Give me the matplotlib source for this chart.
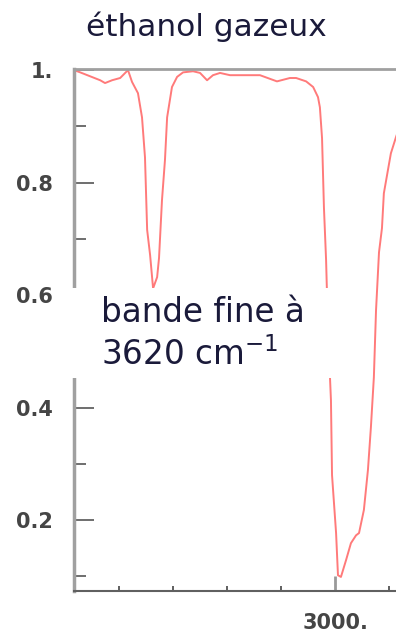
import matplotlib
matplotlib.use("Agg")
import matplotlib.pyplot as plt
from matplotlib.patches import Rectangle
from matplotlib.ticker import FixedLocator, FixedFormatter

# spectre IR de l'ethanol gazeux
wavenumber = [3967, 3944, 3907, 3870, 3852, 3826, 3796, 3767, 3752, 3730,
              3715, 3704, 3696, 3685, 3674, 3659, 3652, 3641, 3630, 3622,
              3604, 3585, 3563, 3526, 3500, 3474, 3452, 3426, 3389, 3278,
              3215, 3167, 3144, 3107, 3081, 3063, 3056, 3048, 3041, 3033,
              3026, 3015, 3011, 2996, 2989, 2978, 2959, 2941, 2922, 2911,
              2893, 2878, 2867, 2856, 2848, 2837, 2826, 2819, 2804, 2793,
              2774, 2760]
transmittance = [1.0, 0.996, 0.989, 0.982, 0.977, 0.982, 0.986, 1.0, 0.979, 0.959,
                 0.916, 0.845, 0.716, 0.671, 0.612, 0.632, 0.666, 0.769, 0.84, 0.916,
                 0.97, 0.988, 0.996, 0.998, 0.995, 0.982, 0.991, 0.995, 0.991, 0.991,
                 0.98, 0.986, 0.986, 0.98, 0.97, 0.952, 0.934, 0.879, 0.756, 0.662,
                 0.538, 0.413, 0.28, 0.177, 0.102, 0.099, 0.129, 0.159, 0.173, 0.177,
                 0.218, 0.289, 0.365, 0.454, 0.573, 0.676, 0.719, 0.781, 0.822, 0.852,
                 0.881, 0.90]

y_ticks = [0.2, 0.4, 0.6, 0.8, 1.0]
y_labels = ["0.2", "0.4", "0.6", "0.8", "1."]
y_minor = [0.1, 0.3, 0.5, 0.7, 0.9]
x_ticks = [3000]
x_labels = ["3000."]
x_minor = [2800, 3200, 3400, 3600, 3800]

fig = plt.figure(figsize=(3.96, 6.33), dpi=100)
ax = fig.add_axes([74 / 396, 42 / 633, 322 / 396, 522 / 633])

ax.plot(wavenumber, transmittance, color="#ff7a7a", lw=1.4, zorder=2)
ax.set_xlim(3967, 2774)
ax.set_ylim(0.074, 1.002)

ax.yaxis.set_major_locator(FixedLocator(y_ticks))
ax.yaxis.set_major_formatter(FixedFormatter(y_labels))
ax.yaxis.set_minor_locator(FixedLocator(y_minor))
ax.xaxis.set_major_locator(FixedLocator(x_ticks))
ax.xaxis.set_major_formatter(FixedFormatter(x_labels))
ax.xaxis.set_minor_locator(FixedLocator(x_minor))

ax.tick_params(axis="y", which="major", direction="in", length=14.4, width=1.2,
               color="#555555", pad=15, labelsize=15, labelcolor="#454545")
ax.tick_params(axis="y", which="minor", direction="in", length=8.6, width=1.2,
               color="#555555")
ax.tick_params(axis="x", which="major", direction="in", length=11, width=2,
               color="#999999", pad=16, labelsize=15, labelcolor="#454545")
ax.tick_params(axis="x", which="minor", direction="in", length=3.6, width=1.2,
               color="#444444")
for lab in ax.get_xticklabels() + ax.get_yticklabels():
    lab.set_fontweight("bold")

ax.spines["right"].set_visible(False)
ax.spines["left"].set_color("#a0a0a0")
ax.spines["left"].set_linewidth(2.5)
ax.spines["top"].set_color("#a0a0a0")
ax.spines["top"].set_linewidth(2)
ax.spines["bottom"].set_color("#606060")
ax.spines["bottom"].set_linewidth(1.5)

fig.text(0.522, 0.957, "éthanol gazeux", ha="center", va="center",
         fontsize=22.5, color="#1a1a3a")

# cadre blanc de l'annotation
fig.add_artist(Rectangle((72 / 396, 255 / 633), 268 / 396, 90 / 633,
                         transform=fig.transFigure, facecolor="white",
                         edgecolor="none", zorder=5))
fig.text(101 / 396, 1 - 334 / 633, "bande fine à\n3620 cm$^{-1}$", ha="left",
         va="center", fontsize=23.5, color="#1a1a3a", linespacing=1.3, zorder=6)

fig.savefig("out.png", dpi=100)
